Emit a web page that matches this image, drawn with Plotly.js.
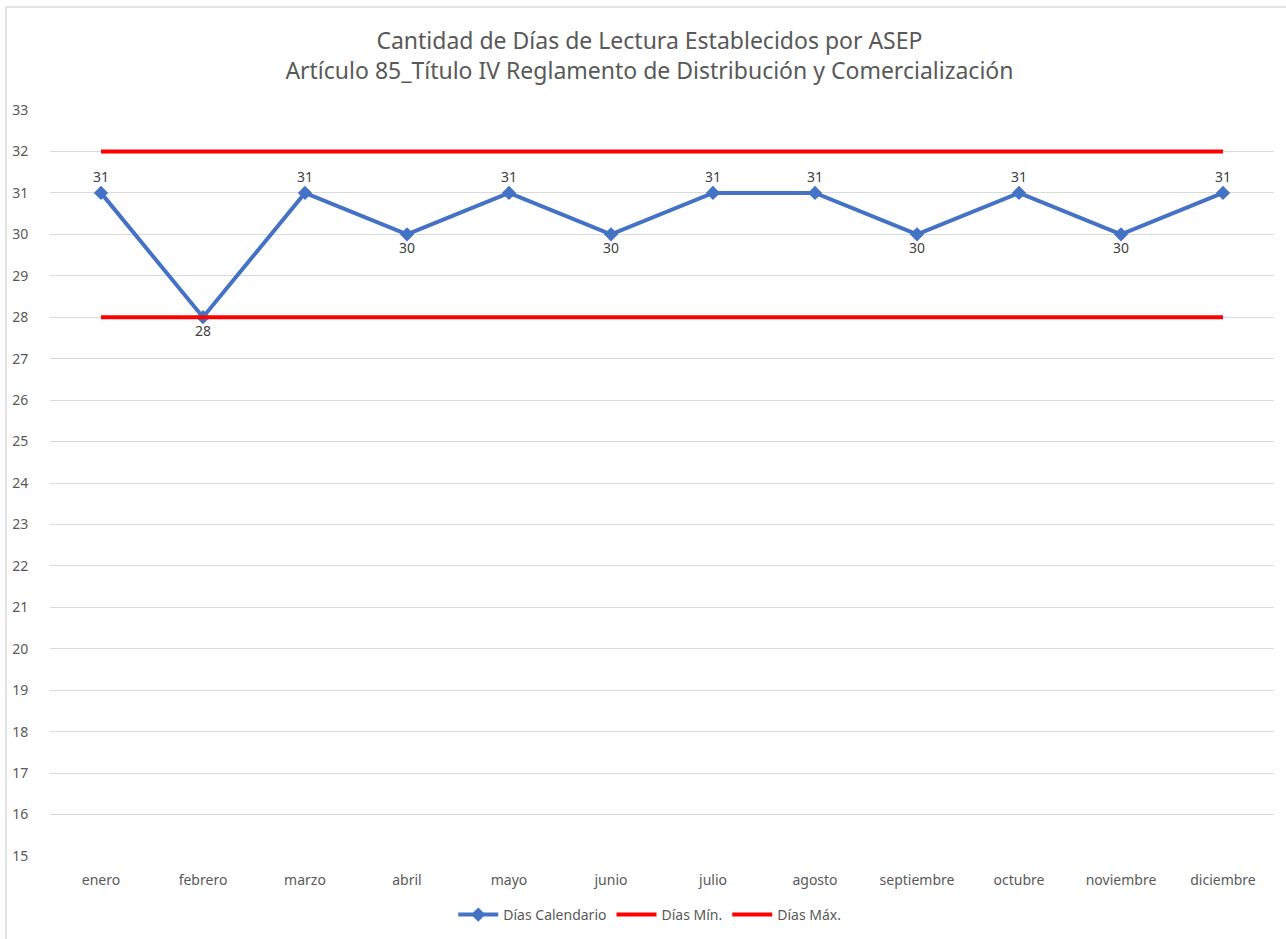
<!DOCTYPE html>
<html>
<head>
<meta charset="utf-8">
<script src="https://cdn.plot.ly/plotly-3.0.1.min.js"></script>
<style>
html,body{margin:0;padding:0;background:#fff;}
#chart{width:1286px;height:939px;}
</style>
</head>
<body>
<div id="chart"></div>
<script>
const months = ["enero","febrero","marzo","abril","mayo","junio","julio","agosto","septiembre","octubre","noviembre","diciembre"];
const diasCalendario = [31,28,31,30,31,30,31,31,30,31,30,31];
const diasMin = [28,28,28,28,28,28,28,28,28,28,28,28];
const diasMax = [32,32,32,32,32,32,32,32,32,32,32,32];
const yTicks = [15,16,17,18,19,20,21,22,23,24,25,26,27,28,29,30,31,32,33];

const FONT = "Noto Sans, sans-serif";
const labelPos = diasCalendario.map(v => v >= 31 ? "top center" : "bottom center");

const traces = [
  {
    x: months, y: diasCalendario, name: "Días Calendario", type: "scatter", mode: "lines+markers+text",
    line: {color: "#4472C4", width: 4},
    marker: {symbol: "diamond", size: 11, color: "#4472C4"},
    text: diasCalendario.map(String), textposition: labelPos,
    textfont: {family: FONT, size: 14, color: "#404040"},
    cliponaxis: false
  },
  {
    x: months, y: diasMin, name: "Días Mín.", type: "scatter", mode: "lines",
    line: {color: "#FF0000", width: 4}
  },
  {
    x: months, y: diasMax, name: "Días Máx.", type: "scatter", mode: "lines",
    line: {color: "#FF0000", width: 4}
  }
];

const L = 50, R = 12, T = 110, B = 83, W = 1286, H = 939;
const pw = W - L - R, ph = H - T - B;
const px = v => (v - L) / pw;
const py = v => (H - B - v) / ph;

const layout = {
  width: W, height: H,
  margin: {l: L, r: R, t: T, b: B, autoexpand: false},
  paper_bgcolor: "#ffffff", plot_bgcolor: "#ffffff",
  font: {family: FONT, color: "#595959", size: 13},
  title: {
    text: "Cantidad de Días de Lectura Establecidos por ASEP<br>Artículo 85_Título IV Reglamento de Distribución y Comercialización",
    font: {family: FONT, size: 23, color: "#595959"},
    x: 0.505, xanchor: "center", y: 0.948, yanchor: "middle"
  },
  xaxis: {
    type: "category", categoryorder: "array", categoryarray: months,
    range: [-0.5, 11.5], showgrid: false, zeroline: false, showline: false,
    ticks: "outside", ticklen: 11, tickcolor: "rgba(0,0,0,0)",
    tickfont: {family: FONT, size: 14, color: "#595959"}
  },
  yaxis: {
    range: [15, 33], tickvals: yTicks, ticktext: yTicks.map(String),
    showgrid: true, gridcolor: "#d9d9d9", gridwidth: 1, zeroline: false, showline: false,
    ticks: "outside", ticklen: 18, tickcolor: "rgba(0,0,0,0)",
    tickfont: {family: FONT, size: 14, color: "#595959"}
  },
  showlegend: true,
  legend: {
    orientation: "h", x: 0.49, xanchor: "center", y: py(915), yanchor: "middle",
    font: {family: FONT, size: 14, color: "#595959"}, itemwidth: 40, tracegroupgap: 0
  },
  shapes: [
    {type: "line", xref: "paper", yref: "paper", x0: px(6), x1: px(1286), y0: py(7), y1: py(7), line: {color: "#d9d9d9", width: 1.5}},
    {type: "line", xref: "paper", yref: "paper", x0: px(6), x1: px(6), y0: py(7), y1: py(939), line: {color: "#d9d9d9", width: 1.5}}
  ]
};

Plotly.newPlot("chart", traces, layout, {displayModeBar: false, staticPlot: true});
</script>
</body>
</html>
